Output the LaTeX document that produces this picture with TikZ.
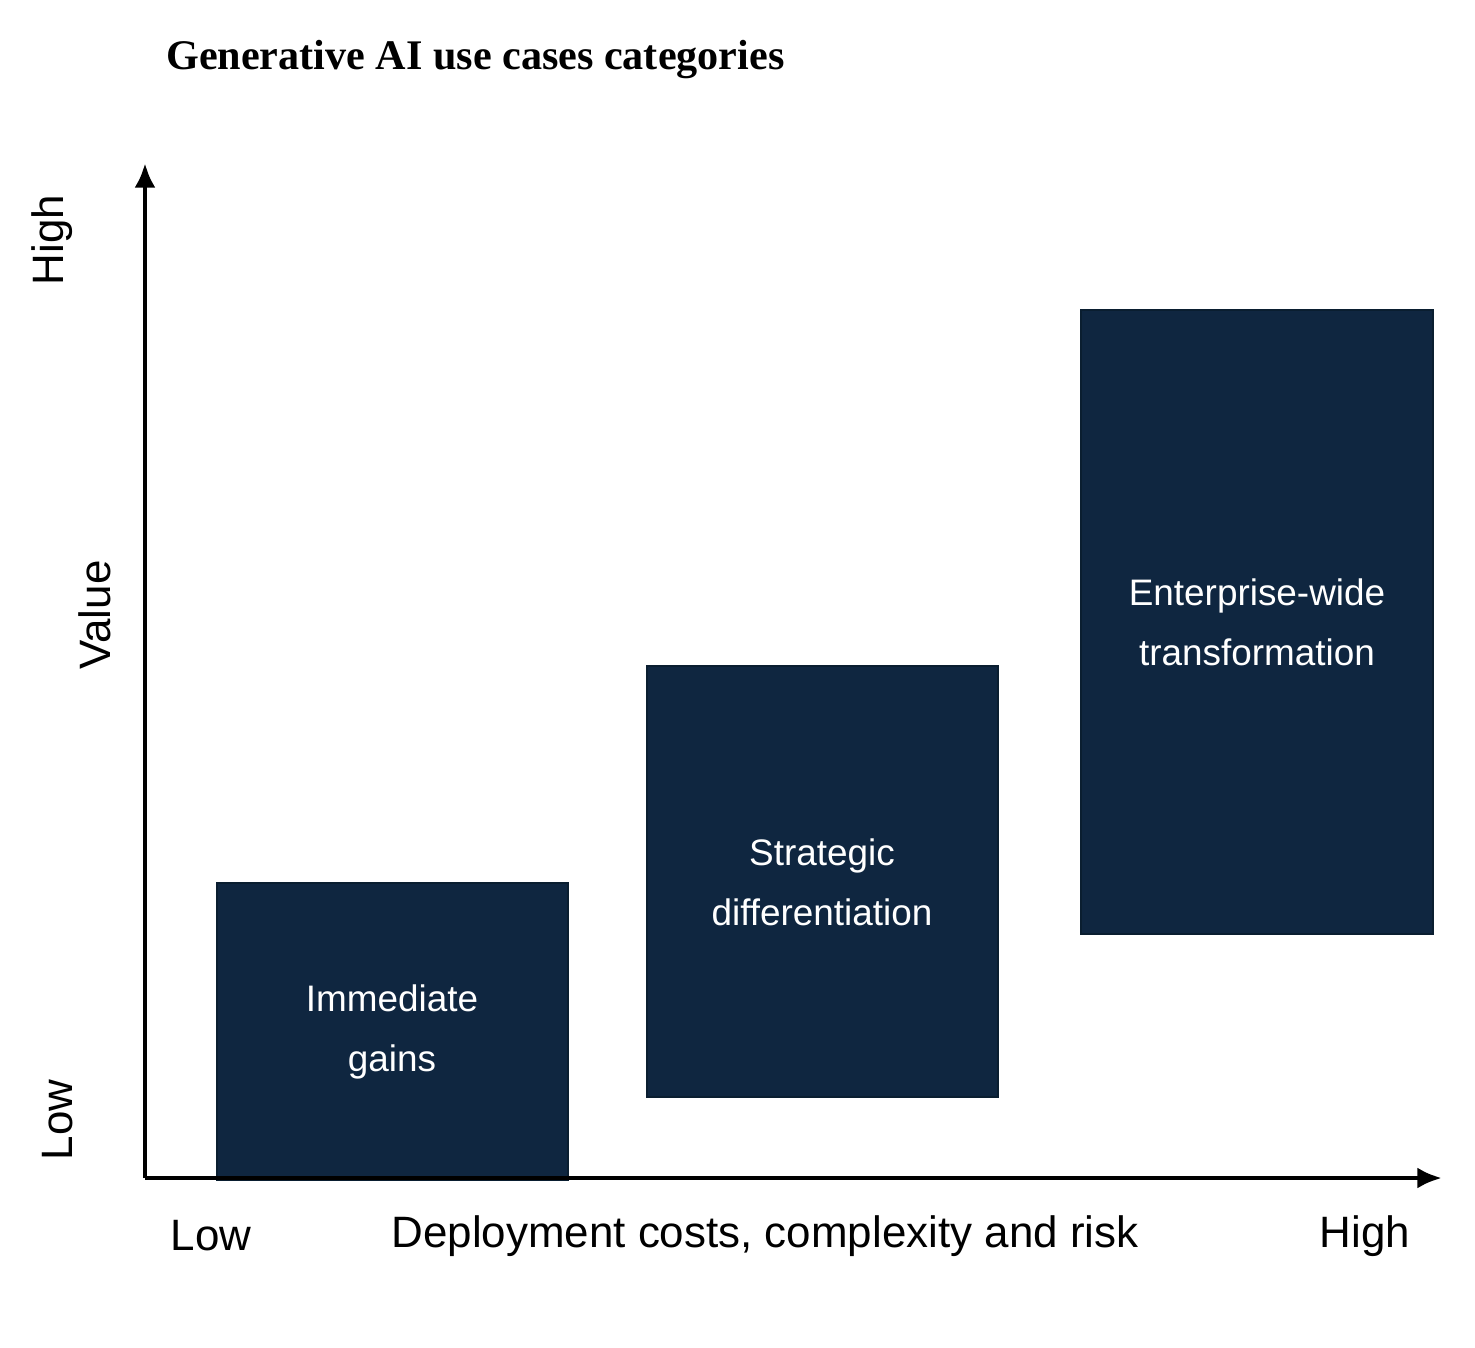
\documentclass[tikz,border=0pt]{standalone}
\usepackage{fontspec}
\setmainfont{Liberation Sans}
\newfontfamily\titlefont{Liberation Serif}
\definecolor{boxc}{HTML}{0F2640}
\definecolor{boxb}{HTML}{0A1E30}
\begin{document}
\begin{tikzpicture}[x=0.02cm,y=-0.02cm,
  bar/.style={fill=boxc,draw=boxb,line width=1.5pt},
  lbl/.style={text=white,font=\fontsize{21}{34}\selectfont,align=center},
  ax/.style={line width=2.8pt,-{Latex[length=14pt,width=12pt]}},
  axl/.style={font=\fontsize{25}{30}\selectfont}]
\usetikzlibrary{arrows.meta}
\useasboundingbox (0,0) rectangle (1475,1347);
\node[anchor=west,font=\titlefont\bfseries\fontsize{24}{28}\selectfont] (title) at (160,60) {Generative AI use cases categories};
\draw[bar] (217,883) rectangle (568,1180);
\draw[bar] (647,666) rectangle (998,1097);
\draw[bar] (1081,310) rectangle (1433,934);
\node[lbl] (b1) at (392,1032) {Immediate\\gains};
\node[lbl] (b2) at (822,882) {Strategic\\differentiation};
\node[lbl] (b3) at (1257,622) {Enterprise-wide\\transformation};
\coordinate (o) at (145,1178);
\coordinate (yt) at (145,163);
\coordinate (xt) at (1442,1178);
\draw[ax] (o) -- (yt);
\draw[ax] (o) -- (xt);
\node[axl] (xl) at (211,1236) {Low};
\node[axl] (xm) at (765,1236) {Deployment costs, complexity and risk};
\node[axl] (xh) at (1365,1236) {High};
\node[axl,rotate=90] (yh) at (52,240) {High};
\node[axl,rotate=90] (yv) at (95,615) {Value};
\node[axl,rotate=90] (yl) at (58,1120) {Low};
\end{tikzpicture}
\end{document}
